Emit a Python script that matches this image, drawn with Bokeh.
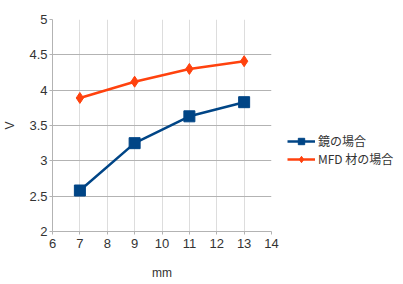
from bokeh.plotting import figure
from bokeh.models import Legend, LegendItem, FixedTicker, Range1d
from bokeh.embed import file_html
from bokeh.resources import INLINE

x_vals = [7, 9, 11, 13]
mirror = [2.58, 3.25, 3.63, 3.83]
mfd = [3.89, 4.12, 4.30, 4.41]
series_names = ["鏡の場合", "MFD 材の場合"]
x_ticks = [6, 7, 8, 9, 10, 11, 12, 13, 14]
y_ticks = [2, 2.5, 3, 3.5, 4, 4.5, 5]

FONT = "Liberation Sans"

p = figure(frame_width=219, frame_height=212, output_backend="svg", toolbar_location=None,
           x_range=Range1d(6, 14), y_range=Range1d(2, 5),
           min_border_left=51, min_border_right=133, min_border_top=19, min_border_bottom=53)
p.outline_line_color = None
p.background_fill_color = "white"

p.xaxis.ticker = FixedTicker(ticks=x_ticks)
p.yaxis.ticker = FixedTicker(ticks=y_ticks)
p.yaxis.major_label_overrides = {2: "2", 2.5: "2.5", 3: "3", 3.5: "3.5", 4: "4", 4.5: "4.5", 5: "5"}

for ax in (p.xaxis[0], p.yaxis[0]):
    ax.axis_line_color = "#b3b3b3"
    ax.major_tick_line_color = "#b3b3b3"
    ax.major_tick_in = 0
    ax.major_tick_out = 3
    ax.minor_tick_line_color = None
    ax.major_label_text_font = FONT
    ax.major_label_text_font_size = "13px"
    ax.major_label_text_color = "#333333"
    ax.axis_label_text_font = FONT
    ax.axis_label_text_font_size = "12px"
    ax.axis_label_text_font_style = "normal"
    ax.axis_label_text_color = "#333333"

p.xaxis.axis_label = "mm"
p.yaxis.axis_label = "V"
p.xaxis.axis_label_standoff = 15
p.yaxis.axis_label_standoff = 9
p.xaxis.major_label_standoff = 4
p.yaxis.major_label_standoff = 2

p.xgrid.grid_line_color = "#dddddd"
p.ygrid.grid_line_color = "#b3b3b3"

blue = "#004586"
orange = "#ff420e"

l1 = p.line(x_vals, mirror, line_color=blue, line_width=2.5)
m1 = p.scatter(x_vals, mirror, marker="square", size=11, fill_color=blue, line_color=blue)
l2 = p.line(x_vals, mfd, line_color=orange, line_width=2.5)
m2 = p.scatter(x_vals, mfd, marker="diamond", size=11, fill_color=orange, line_color=orange)

legend = Legend(items=[LegendItem(label=series_names[0], renderers=[l1, m1]),
                       LegendItem(label=series_names[1], renderers=[l2, m2])],
                location=(16, 64), border_line_color=None, background_fill_alpha=0,
                label_text_font="Noto Sans CJK JP", label_text_font_size="12px",
                label_text_color="#333333", glyph_width=28, label_standoff=3,
                spacing=1, padding=4, label_height=16, glyph_height=16, margin=0)
p.add_layout(legend, "right")

open("out.html", "w").write(file_html(p, INLINE))
